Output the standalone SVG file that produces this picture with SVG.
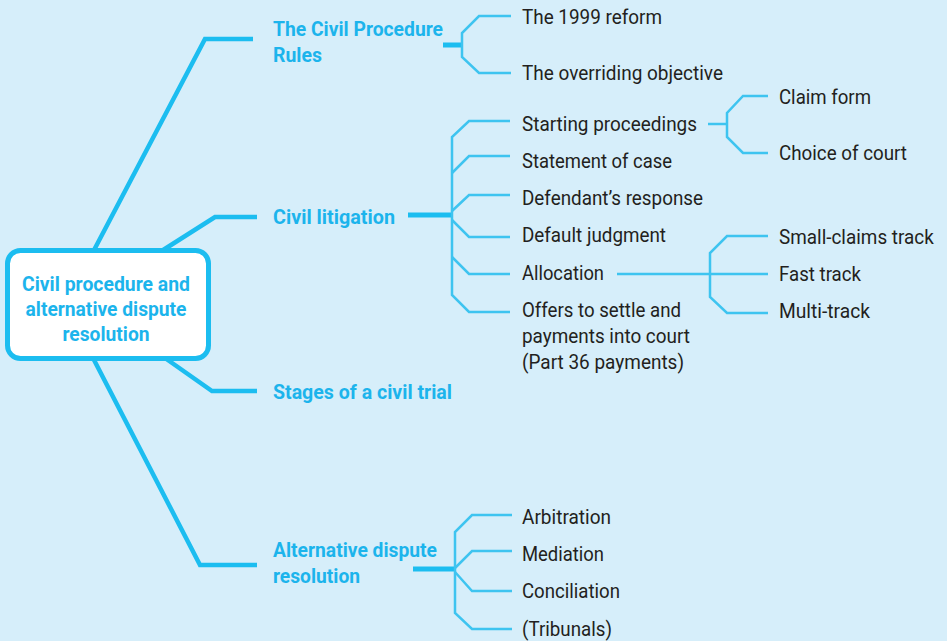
<svg xmlns="http://www.w3.org/2000/svg" width="947" height="641" viewBox="0 0 947 641">
<style>
.bg{fill:#d6eefa}
.main{fill:none;stroke:#1cbdf0;stroke-width:4.5;stroke-linejoin:miter}
.stub{fill:none;stroke:#1cbdf0;stroke-width:5}
.thin{fill:none;stroke:#3ec4f0;stroke-width:2.5;stroke-linejoin:miter}
.t{font-family:Roboto,"Liberation Sans",sans-serif;font-size:21px;fill:#231f20}
.h{font-family:Roboto,"Liberation Sans",sans-serif;font-size:20px;font-weight:bold;fill:#1cb4ec}
</style>
<rect class="bg" x="0" y="0" width="947" height="641"/>
<g id="connectors">
<path class="main" d="M93,252 L205,39 L253,39"/>
<path class="main" d="M160,252 L215,217 L257,217"/>
<path class="main" d="M165,358 L212,391 L257,391"/>
<path class="main" d="M93,358 L200,565 L257,565"/>
<path class="stub" d="M443,45 L462,45"/>
<path class="thin" d="M511,16 L479,16 L462,33 L462,57 L479,73 L511,73"/>
<path class="stub" d="M408,215 L452,215"/>
<path class="thin" d="M510,121 L469,121 L452,137 L452,295 L469,312 L510,312"/>
<path class="thin" d="M452,173 L469,156 L510,156"/>
<path class="thin" d="M452,211 L469,195 L510,195"/>
<path class="thin" d="M452,220 L469,237 L510,237"/>
<path class="thin" d="M452,257 L469,274 L510,274"/>
<path class="thin" d="M708,124 L727,124"/>
<path class="thin" d="M768,96 L743,96 L727,113 L727,137 L743,153 L768,153"/>
<path class="thin" d="M617,274 L768,274"/>
<path class="thin" d="M768,236 L727,236 L710,253 L710,297 L727,313 L768,313"/>
<path class="stub" d="M413,569 L455,569"/>
<path class="thin" d="M512,515 L472,515 L455,532 L455,613 L472,629 L512,629"/>
<path class="thin" d="M455,568 L472,551 L512,551"/>
<path class="thin" d="M455,572 L472,591 L512,591"/>
</g>
<g id="central">
<rect x="7.5" y="250.5" width="201" height="108" rx="13" fill="#fff" stroke="#1cbdf0" stroke-width="5"/>
<text class="h" x="106" y="291" text-anchor="middle" textLength="168" lengthAdjust="spacingAndGlyphs">Civil procedure and</text>
<text class="h" x="106" y="316" text-anchor="middle" textLength="161" lengthAdjust="spacingAndGlyphs">alternative dispute</text>
<text class="h" x="106" y="341" text-anchor="middle" textLength="87" lengthAdjust="spacingAndGlyphs">resolution</text>
</g>
<g id="cpr">
<text class="h" x="273" y="36" textLength="170" lengthAdjust="spacingAndGlyphs">The Civil Procedure</text>
<text class="h" x="273" y="62" textLength="49" lengthAdjust="spacingAndGlyphs">Rules</text>
</g>
<g id="reform"><text class="t" x="522" y="24" textLength="140" lengthAdjust="spacingAndGlyphs">The 1999 reform</text></g>
<g id="overriding"><text class="t" x="522" y="80" textLength="201" lengthAdjust="spacingAndGlyphs">The overriding objective</text></g>
<g id="litigation"><text class="h" x="273" y="224" textLength="122" lengthAdjust="spacingAndGlyphs">Civil litigation</text></g>
<g id="starting"><text class="t" x="522" y="131" textLength="175" lengthAdjust="spacingAndGlyphs">Starting proceedings</text></g>
<g id="statement"><text class="t" x="522" y="168" textLength="150" lengthAdjust="spacingAndGlyphs">Statement of case</text></g>
<g id="defendant"><text class="t" x="522" y="205" textLength="181" lengthAdjust="spacingAndGlyphs">Defendant’s response</text></g>
<g id="default"><text class="t" x="522" y="242" textLength="144" lengthAdjust="spacingAndGlyphs">Default judgment</text></g>
<g id="allocation"><text class="t" x="522" y="280" textLength="82" lengthAdjust="spacingAndGlyphs">Allocation</text></g>
<g id="offers">
<text class="t" x="522" y="317" textLength="159" lengthAdjust="spacingAndGlyphs">Offers to settle and</text>
<text class="t" x="522" y="343" textLength="168" lengthAdjust="spacingAndGlyphs">payments into court</text>
<text class="t" x="522" y="369" textLength="162" lengthAdjust="spacingAndGlyphs">(Part 36 payments)</text>
</g>
<g id="claim"><text class="t" x="779" y="104" textLength="92" lengthAdjust="spacingAndGlyphs">Claim form</text></g>
<g id="choice"><text class="t" x="779" y="160" textLength="128" lengthAdjust="spacingAndGlyphs">Choice of court</text></g>
<g id="small"><text class="t" transform="translate(779,244) scale(0.9,1)" x="0" y="0">Small-claims track</text></g>
<g id="fast"><text class="t" x="779" y="281" textLength="82" lengthAdjust="spacingAndGlyphs">Fast track</text></g>
<g id="multi"><text class="t" x="779" y="318" textLength="91" lengthAdjust="spacingAndGlyphs">Multi-track</text></g>
<g id="stages"><text class="h" x="273" y="399" textLength="179" lengthAdjust="spacingAndGlyphs">Stages of a civil trial</text></g>
<g id="adr">
<text class="h" x="273" y="557" textLength="164" lengthAdjust="spacingAndGlyphs">Alternative dispute</text>
<text class="h" x="273" y="583" textLength="87" lengthAdjust="spacingAndGlyphs">resolution</text>
</g>
<g id="arbitration"><text class="t" x="522" y="524" textLength="89" lengthAdjust="spacingAndGlyphs">Arbitration</text></g>
<g id="mediation"><text class="t" x="522" y="561" textLength="82" lengthAdjust="spacingAndGlyphs">Mediation</text></g>
<g id="conciliation"><text class="t" x="522" y="598" textLength="98" lengthAdjust="spacingAndGlyphs">Conciliation</text></g>
<g id="tribunals"><text class="t" x="522" y="636" textLength="90" lengthAdjust="spacingAndGlyphs">(Tribunals)</text></g>
</svg>
